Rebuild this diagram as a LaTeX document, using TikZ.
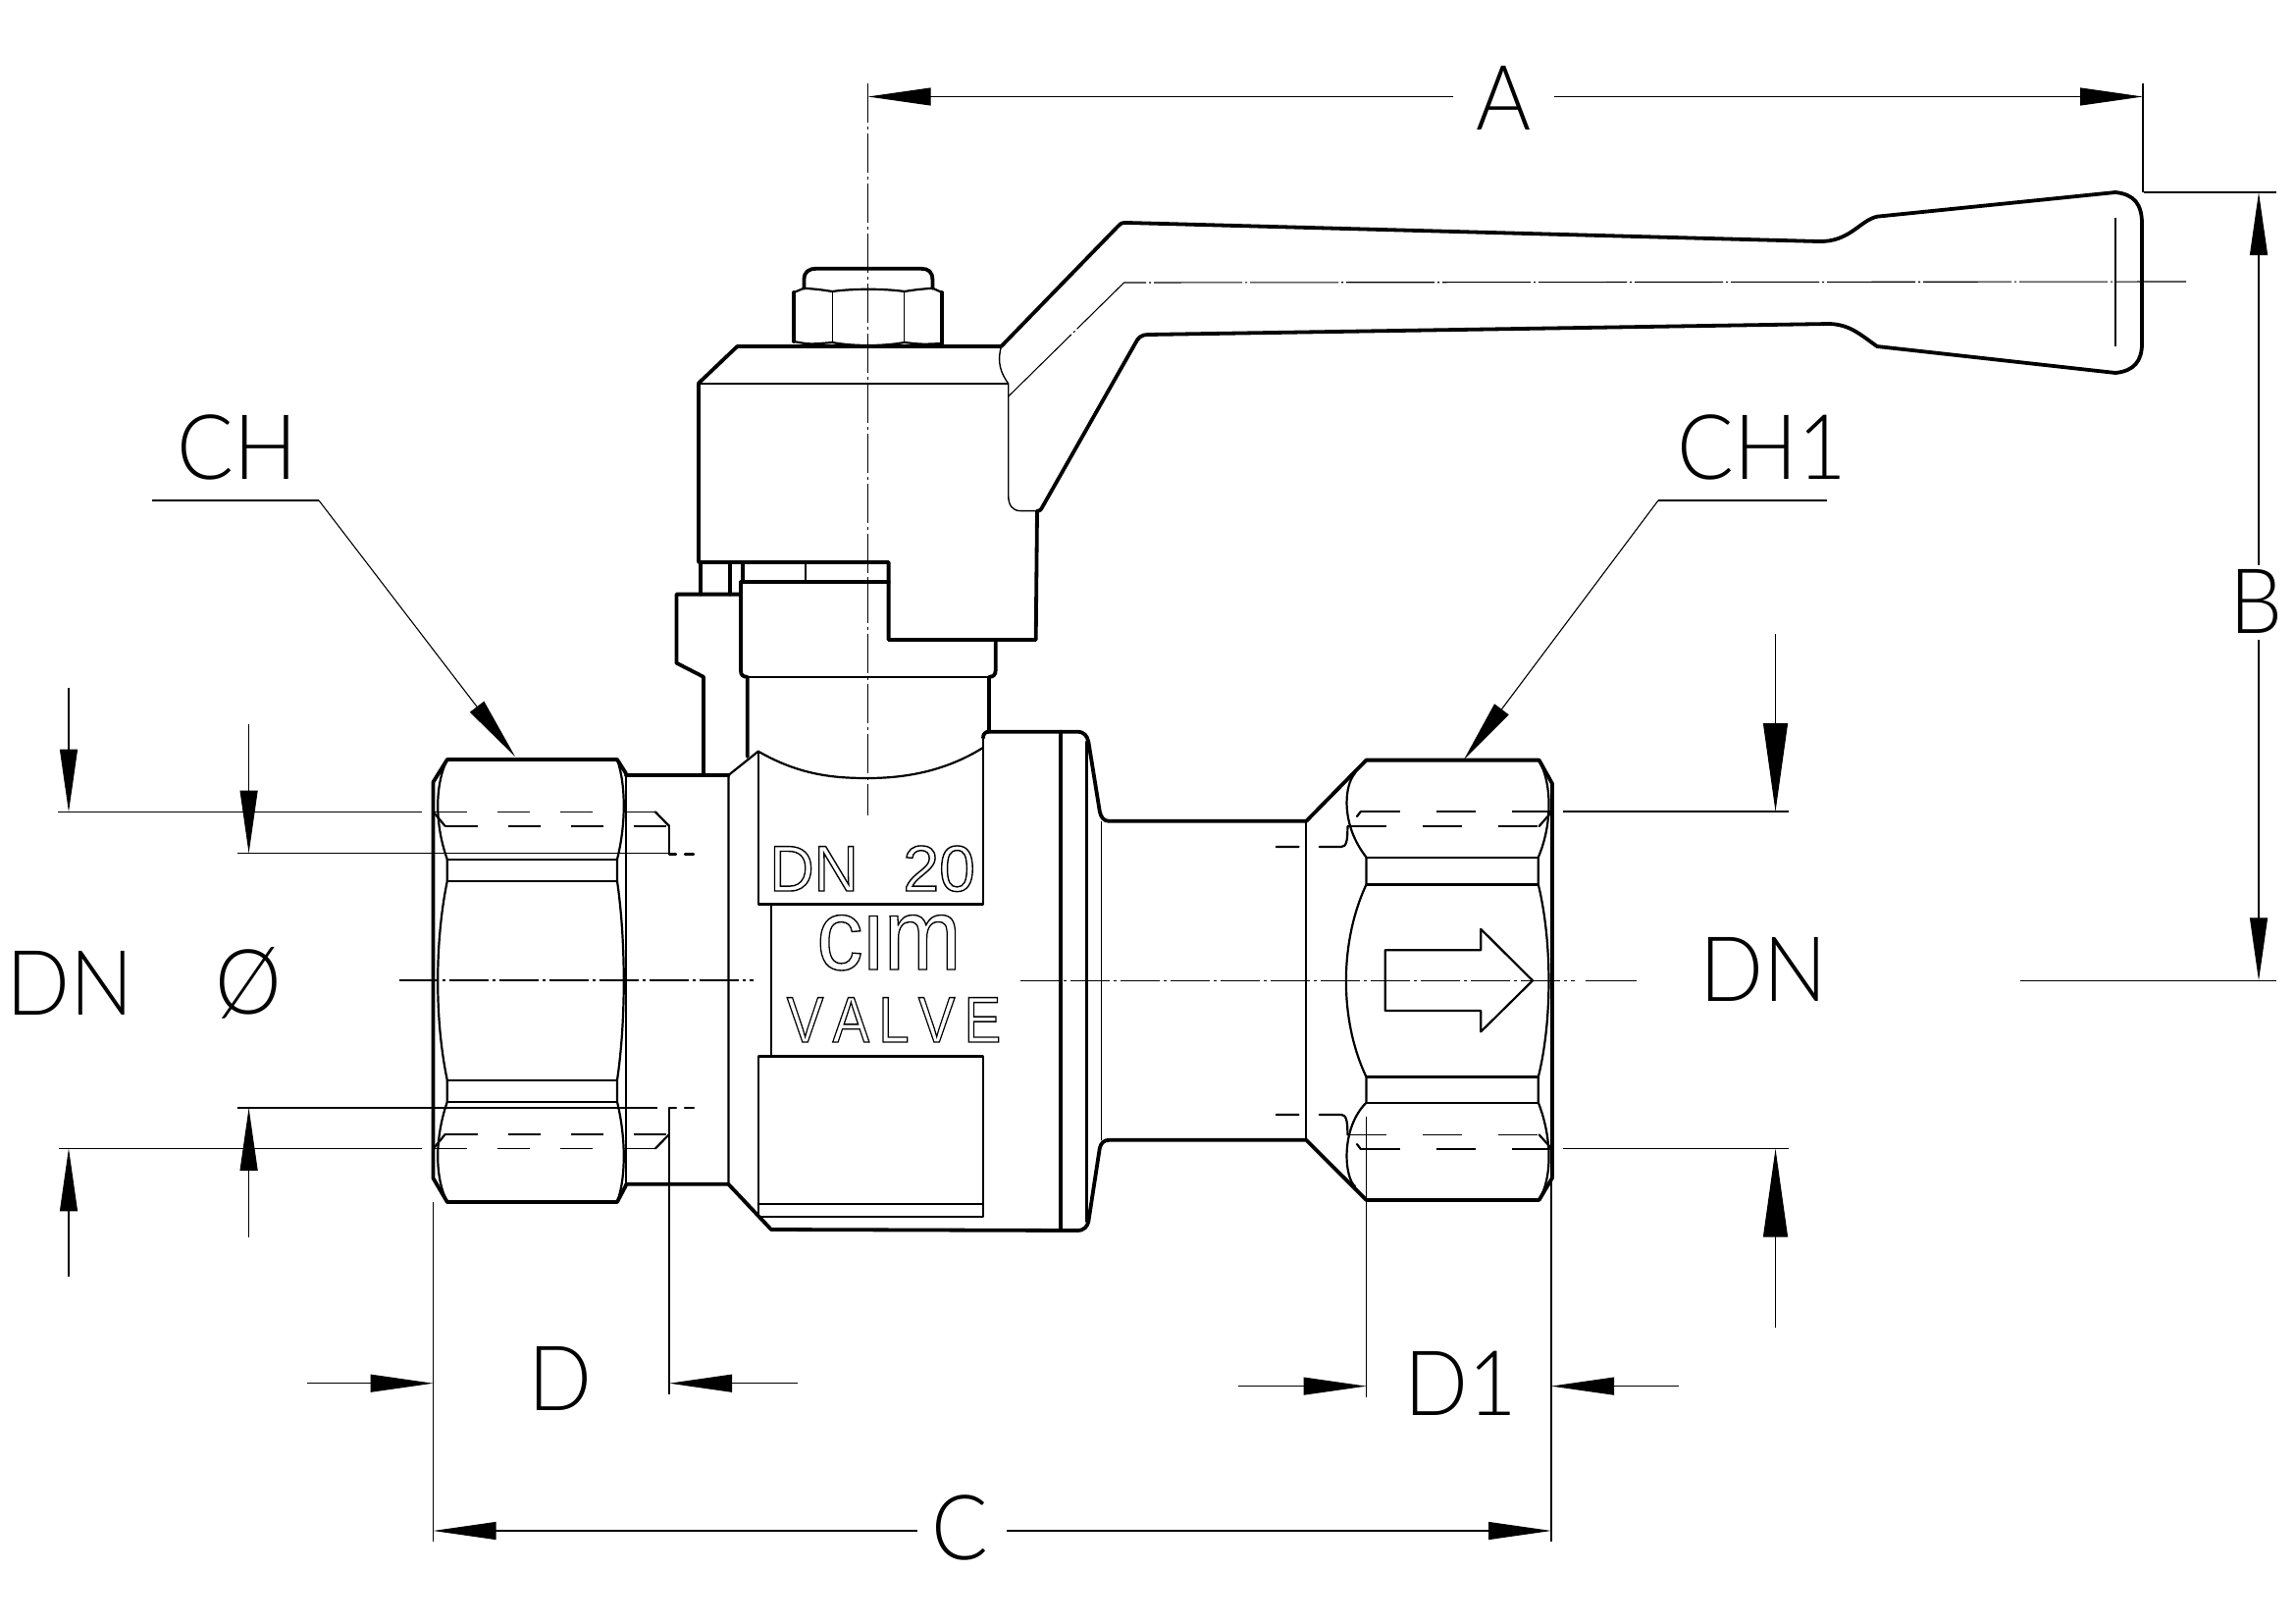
\documentclass[tikz,border=0pt]{standalone}
\usepackage{fontspec}
\usetikzlibrary{arrows.meta}
\newfontfamily\dimfont{Lato Light}
\newfontfamily\markfont{Liberation Sans}
\newcommand{\outl}[1]{\special{pdf:code q 1 Tr 0.7 w}#1\special{pdf:code Q}}
\tikzset{
 thk/.style={line width=1.9pt,line join=round,line cap=round},
 midl/.style={line width=1.1pt,line join=round,line cap=round},
 thn/.style={line width=0.7pt,line join=round},
 dimln/.style={line width=0.55pt},
 ctr/.style={line width=0.55pt,dash pattern=on 20pt off 2pt on 1.5pt off 2pt},
 hid/.style={line width=0.9pt,dash pattern=on 16.5pt off 15.5pt},
 hidr/.style={line width=0.9pt,dash pattern=on 20pt off 18.5pt},
 arr/.style={-{Triangle[length=32pt,width=9pt]},line width=0.55pt},
 arrbig/.style={-{Triangle[length=45pt,width=12.5pt]},line width=0.55pt},
 lab/.style={font=\dimfont\fontsize{46}{46}\selectfont,inner sep=0pt,xscale=0.93},
 bodymark/.style={font=\markfont\fontsize{33}{33}\selectfont,inner sep=0pt},
}
\begin{document}
\begin{tikzpicture}[x=0.5pt,y=-0.5pt]
\useasboundingbox (0,0) rectangle (2339,1654);
% handle and block outline
\draw[thk] (712,573) -- (712,390.5) -- (751.4,353) -- (1020.4,353) -- (1139,231)
  .. controls (1143,227) .. (1149,227) -- (1853,246)
  .. controls (1885,247) and (1895,225) .. (1913,220.7) -- (2156,196)
  .. controls (2175,198) and (2183,208) .. (2183,228) -- (2183,350)
  .. controls (2183,368) and (2175,378) .. (2156,380) -- (1913,353)
  .. controls (1895,340) and (1885,331) .. (1865,330) -- (1170,341)
  .. controls (1163,341) and (1160,344) .. (1157,350) -- (1061,519)
  .. controls (1060,520) .. (1057,521) -- (1055.7,652) -- (905.6,652) -- (905.6,573) -- cycle;
\draw[thn] (712,391) -- (1027.7,391);
\draw[thn] (1020.4,353) .. controls (1016,370) and (1020,380) .. (1027.7,391) -- (1027.7,505)
  .. controls (1027.7,515) and (1032,520.6) .. (1040,520.6) -- (1057,520.6);
\draw[dimln,dash pattern=on 45pt off 1.5pt on 1pt off 1.5pt] (1027.7,404) -- (1145.6,288) -- (2228,287);
\draw[thn] (2156,221.7) -- (2156,353);
% nut on handle
\draw[thk] (819.5,293.7) -- (819.5,285) .. controls (819.5,277) and (824,273.8) .. (832,273.8) -- (939,273.8)
  .. controls (946,273.8) and (950.4,277) .. (950.4,285) -- (950.4,293.7);
\draw[thk] (809,298) -- (809,348) (960,298) -- (960,350);
\draw[midl] (809,298) -- (819.5,293.7) .. controls (835,295) .. (848.2,297) .. controls (870,294) and (900,294) .. (921.7,297)
  .. controls (935,295) .. (950.4,293.7) -- (960,298);
\draw[midl] (809,348) .. controls (825,351) .. (848.2,349) .. controls (870,353) and (900,353) .. (921.7,349)
  .. controls (940,351) .. (960,350);
\draw[thn] (848.2,297) -- (848.2,349) (921.7,297) -- (921.7,349);
% collar under block
\draw[thk] (714.3,573) -- (714.3,605.6) (743.8,573) -- (743.8,605.6) (757,573) -- (757,593.3);
\draw[thn] (821,573) -- (821,593.3);
\draw[thk] (755,593.3) -- (905.6,593.3);
\draw[thk] (753,605.6) -- (689.4,605.6) -- (689.4,675.6) -- (717,689.8) -- (717,790);
\draw[thk] (755,593.3) -- (755,683) .. controls (755,688) and (757,689.8) .. (761.7,689.8) -- (761.7,771);
\draw[thk] (1014.7,652) -- (1014.7,683) .. controls (1014.7,688) and (1012,689.8) .. (1008,689.8) -- (1008,745.7);
\draw[midl] (761.7,689.8) -- (1008,689.8);
% body
\draw[thk] (1002,752) .. controls (1002,748) and (1004,745.7) .. (1008,745.7) -- (1097.8,745.7)
  .. controls (1105,745.7) and (1108,750) .. (1109.3,755.7) -- (1120.8,827)
  .. controls (1122,833) and (1125,836.8) .. (1130.4,836.8) -- (1331.3,836.8) -- (1392.5,774.6) -- (1568.6,774.6)
  -- (1582,798.6) -- (1582,1200.4) -- (1568.6,1222.9) -- (1392.5,1222.9) -- (1331.3,1161.8) -- (1130.4,1161.8)
  .. controls (1125,1161.8) and (1122,1165) .. (1120.8,1170) -- (1109.3,1245)
  .. controls (1108,1250) and (1105,1254) .. (1097.8,1254) -- (786,1253) -- (742.4,1206.8) -- (638,1206.8);
\draw[thk] (1080.6,745.7) -- (1080.6,1254);
\draw[thk] (638,790) -- (742.4,790);
\draw[midl] (742.4,790) -- (772.8,765.7) (742.4,790) -- (742.4,1206.8);
\draw[midl] (772.8,765.7) -- (772.8,921.4) -- (1001.8,921.4) -- (1001.8,752);
\draw[midl] (772.8,765.7) .. controls (815,790) and (850,793) .. (884.4,793) .. controls (925,793) and (965,785) .. (1001.8,762);
\draw[midl] (786,921.4) -- (786,1076.4);
\draw[midl] (772.8,1076.4) rectangle (1001.8,1240);
\draw[midl] (772.8,1226.8) -- (1001.8,1226.8);
\draw[midl] (1107.4,755.7) -- (1107.4,1245);
\draw[thn] (1122.7,836.8) -- (1122.7,1161.8);
\draw[midl] (1331.3,836.8) -- (1331.3,1161.8);
% left nut
\draw[thk] (638,788.2) -- (629,774) -- (455.8,774) -- (441.5,797) -- (441.5,1200.7) -- (455.8,1225) -- (629,1225) -- (638,1207.9);
\draw[midl] (638,788.2) -- (638,1207.9);
\draw[midl] (455.8,774) .. controls (443,800) and (443,840) .. (455.8,875.7) -- (455.8,897.9)
  .. controls (443,960) and (443,1040) .. (455.8,1100.7) -- (455.8,1122.9) .. controls (443,1160) and (443,1200) .. (455.8,1225);
\draw[midl] (629,774) .. controls (638,800) and (638,840) .. (629,875.7) -- (629,897.9)
  .. controls (638,960) and (638,1040) .. (629,1100.7) -- (629,1122.9) .. controls (638,1160) and (638,1200) .. (629,1225);
\draw[midl] (455.8,875.7) -- (629,875.7) (455.8,897.9) -- (629,897.9) (455.8,1100.7) -- (629,1100.7) (455.8,1122.9) -- (629,1122.9);
% left threads (hidden)
\draw[hid] (443,827.5) -- (668,827.5);
\draw[midl] (668,827.5) -- (682,841.8);
\draw[hid] (453.6,841.8) -- (682,841.8);
\draw[midl] (443,829) -- (453.6,841.8);
\draw[midl] (682,841.8) -- (682,870.4) -- (689,870.4);
\draw[midl] (698,870.4) -- (707,870.4);
\draw[hid] (443,1170.4) -- (668,1170.4);
\draw[midl] (668,1170.4) -- (682,1156);
\draw[hid] (453.6,1156) -- (682,1156);
\draw[midl] (443,1169) -- (453.6,1156);
\draw[midl] (682,1156) -- (682,1128.6) -- (689,1128.6);
\draw[midl] (698,1128.6) -- (707,1128.6);
% right nut
\draw[midl] (1381,788) .. controls (1370,800) and (1366,840) .. (1392.5,873.6) -- (1392.5,901.4)
  .. controls (1365,960) and (1365,1040) .. (1392.5,1097.5) -- (1392.5,1123.6)
  .. controls (1366,1150) and (1370,1200) .. (1381,1209);
\draw[midl] (1568.6,774.6) .. controls (1582,800) and (1582,840) .. (1567.8,873.6) -- (1567.8,901.4)
  .. controls (1582,960) and (1582,1040) .. (1567.8,1097.5) -- (1567.8,1123.6)
  .. controls (1582,1160) and (1582,1200) .. (1568.6,1222.9);
\draw[midl] (1392.5,873.6) -- (1567.8,873.6) (1392.5,901.4) -- (1567.8,901.4) (1392.5,1097.5) -- (1567.8,1097.5) (1392.5,1123.6) -- (1567.8,1123.6);
% right threads
\draw[hidr] (1386.8,827) -- (1580,827);
\draw[midl] (1383,832) -- (1386.8,827);
\draw[hidr] (1373.4,842) -- (1568.6,842);
\draw[midl] (1568.6,842) -- (1580,829);
\draw[hidr] (1386.8,1171) -- (1580,1171);
\draw[midl] (1383,1166) -- (1386.8,1171);
\draw[hidr] (1373.4,1156.4) -- (1568.6,1156.4);
\draw[midl] (1568.6,1156.4) -- (1580,1169);
\draw[midl] (1300.7,862.9) -- (1323.6,862.9) (1344.7,862.9) -- (1367,862.9) .. controls (1372,862.9) and (1373.4,858) .. (1373.4,842);
\draw[midl] (1300.7,1136) -- (1323.6,1136) (1344.7,1136) -- (1367,1136) .. controls (1372,1136) and (1373.4,1142) .. (1373.4,1156.4);
% flow arrow
\draw[midl] (1411.7,968.2) -- (1509.2,968.2) -- (1509.2,946.8) -- (1562,999.3) -- (1509.2,1051.4) -- (1509.2,1030) -- (1411.7,1030) -- cycle;
% centre lines
\draw[ctr] (884.6,85) -- (884.6,831);
\draw[ctr] (406.7,999) -- (768,999);
\draw[ctr] (1040,999.3) -- (1605,999.3);
\draw[dimln] (1616,999.3) -- (1668,999.3);
% extension lines
\draw[dimln] (2184,85) -- (2184,196);
\draw[dimln] (2185,196) -- (2320,196);
\draw[dimln] (2058.5,999.3) -- (2320,999.3);
\draw[dimln] (59,827.5) -- (430,827.5);
\draw[dimln] (60,1170.4) -- (430,1170.4);
\draw[dimln] (241.7,869.6) -- (682,869.6);
\draw[dimln] (241.7,1129) -- (670,1129);
\draw[dimln] (1593.4,827) -- (1823,827);
\draw[dimln] (1593.4,1170.7) -- (1823,1170.7);
\draw[dimln] (441.5,1225) -- (441.5,1571);
\draw[dimln] (682,1156) -- (682,1421);
\draw[dimln] (1392.5,1138) -- (1392.5,1424);
\draw[dimln] (1581,1200) -- (1581,1571);
% dimension labels
\node[lab] (lA) at (1533,100) {A};
\node[lab] (lB) at (2300,613) {B};
\node[lab] (lC) at (978.6,1557) {C};
\node[lab] (lD) at (571,1405) {D};
\node[lab] (lDa) at (1489,1410) {D1};
\node[lab] (lCH) at (241.7,456) {CH};
\node[lab] (lCHa) at (1796,456) {CH1};
\node[lab] (lDNl) at (71.6,1002) {DN};
\node[lab] (lO) at (253.6,1002) {Ø};
\node[lab] (lDNr) at (1797.5,987.5) {DN};
% dimension arrows
\coordinate (Aa) at (884.6,98.5); \coordinate (Ab) at (2184,98.5);
\draw[arr] (1481,98.5) -- (Aa);
\draw[arr] (1584,98.5) -- (Ab);
\coordinate (Ba) at (2302,196); \coordinate (Bb) at (2302,999.3);
\draw[arr] (2302,576) -- (Ba);
\draw[arr] (2302,652) -- (Bb);
\coordinate (Ca) at (441.5,1560); \coordinate (Cb) at (1581,1560);
\draw[arr] (935,1560) -- (Ca);
\draw[arr] (1026,1560) -- (Cb);
\draw[arr] (70,701) -- (70,827.5);
\draw[arr] (70,1301) -- (70,1170.4);
\draw[arr] (253.6,738.4) -- (253.6,869.6);
\draw[arr] (253.6,1260.5) -- (253.6,1129);
\draw[arrbig] (1809.5,646) -- (1809.5,827);
\draw[arrbig] (1809.5,1353) -- (1809.5,1170.7);
\draw[arr] (313,1409.7) -- (441.5,1409.7);
\draw[arr] (813,1409.7) -- (682,1409.7);
\draw[arr] (1262,1412.6) -- (1392.5,1412.6);
\draw[arr] (1711,1412.6) -- (1581,1412.6);
% leaders
\draw[dimln] (155,510) -- (325,510);
\draw[arr] (325,510) -- (525,771);
\draw[dimln] (1862,510) -- (1690,510);
\draw[arr] (1690,510) -- (1492,774);
% marks on the body
\node[bodymark,anchor=base west,xscale=0.95] (dn) at (784,908) {\outl{DN}};
\node[bodymark,anchor=base west] (twenty) at (920,908) {\outl{20}};
\begin{scope}
\clip (800,930) rectangle (1000,1000);
\node[bodymark,anchor=base,xscale=0.92,font=\markfont\fontsize{51.6}{52}\selectfont] (cim) at (906,988) {\outl{cim}};
\end{scope}
\node[bodymark,anchor=base,xscale=0.85] (valve) at (911,1062) {\outl{V\,A\,L\,V\,E}};
\end{tikzpicture}
\end{document}
